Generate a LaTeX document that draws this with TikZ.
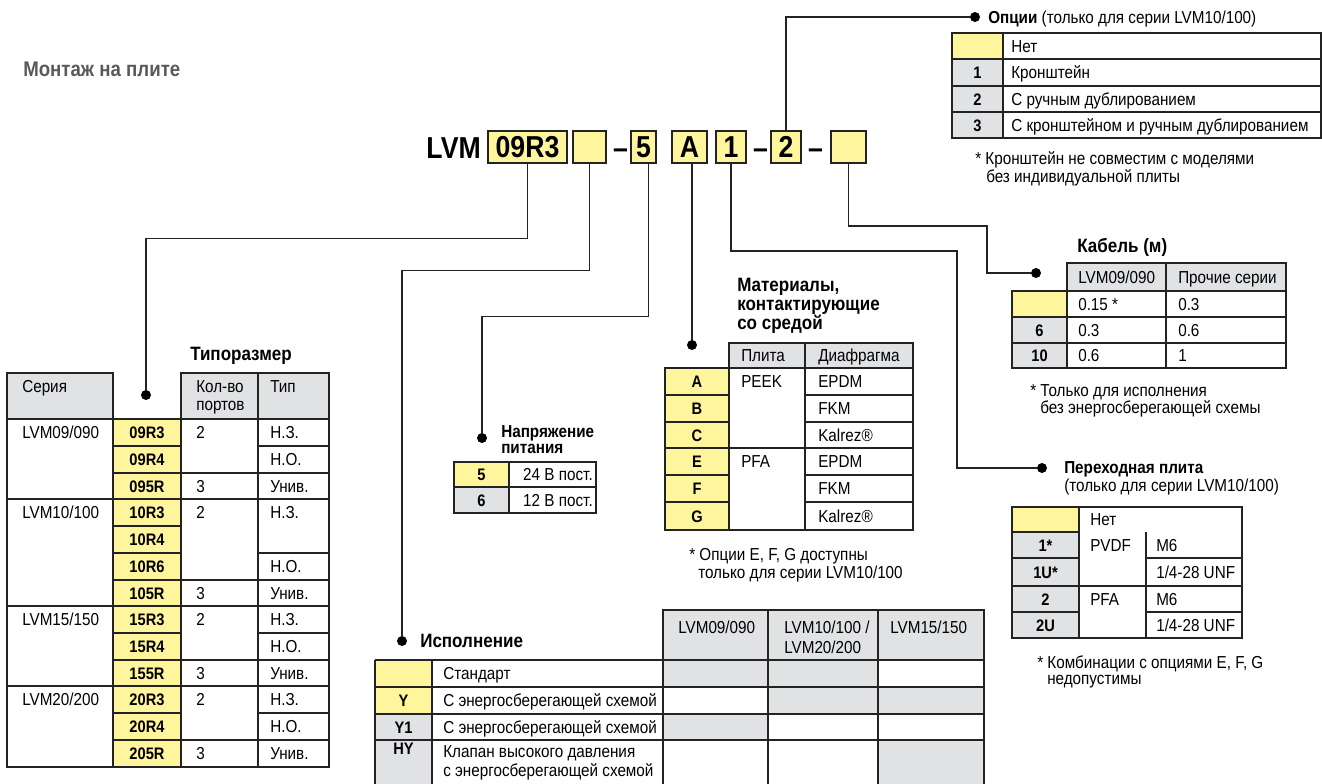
\documentclass[tikz,border=0pt]{standalone}
\usepackage{fontspec}
\setmainfont{Liberation Sans}[FakeStretch=0.88]
\usepackage{xcolor}
\usepackage{tikz}

\definecolor{cYel}{RGB}{255,245,157}
\definecolor{cGry}{RGB}{225,226,228}
\definecolor{cLine}{RGB}{35,35,35}
\definecolor{cHead}{RGB}{88,89,91}

\begin{document}
\begin{tikzpicture}[x=0.75pt,y=0.75pt,yscale=-1,xscale=1,
  tbl/.style={draw=cLine,line width=1.1pt},
  wire/.style={draw=cLine,line width=0.8pt},
  dot/.style={circle,fill=black,inner sep=0pt,minimum size=7.5pt},
  txt/.style={anchor=base west,inner sep=0pt,font=\fontsize{13}{14}\selectfont},
  cod/.style={anchor=base,inner sep=0pt,font=\bfseries\fontsize{12.5}{14}\selectfont},
  ttl/.style={anchor=base west,inner sep=0pt,font=\bfseries\fontsize{14.5}{18}\selectfont},
  sttl/.style={anchor=base west,inner sep=0pt,font=\bfseries\fontsize{13}{16}\selectfont},
  pbox/.style={draw=cLine,line width=1.1pt,fill=cYel,inner sep=0pt,minimum height=24pt,font=\bfseries\fontsize{22.7}{26}\selectfont},
  pdash/.style={anchor=base,inner sep=0pt,font=\bfseries\fontsize{22.7}{26}\selectfont}]
\useasboundingbox (0,0) rectangle (1322,783);

% Text Node
\node[anchor=base west,inner sep=0pt,text=cHead,font=\bfseries\fontsize{15.9}{18}\selectfont] (tMount) at (23,76) {Монтаж на плите};

%Part number
\node[anchor=base east,inner sep=0pt,font=\bfseries\fontsize{22.7}{26}\selectfont] (tLVM) at (481,158) {LVM};
\node[pbox,minimum width=59.25pt] (kSize) at (527.5,147) {09R3};
\node[pbox,minimum width=24.75pt] (kExec) at (589.5,147) {};
\node[pdash] (m1) at (620.5,158) {–};
\node[pbox,minimum width=18.75pt] (kVolt) at (643.5,147) {5};
\node[pbox,minimum width=26.25pt] (kMat) at (689.5,147) {A};
\node[pbox,minimum width=22.5pt] (kBase) at (731,147) {1};
\node[pdash] (m2) at (760.5,158) {–};
\node[pbox,minimum width=22.5pt] (kOpt) at (786,147) {2};
\node[pdash] (m3) at (815.5,158) {–};
\node[pbox,minimum width=26.25pt] (kCable) at (848.5,147) {};

%Dots
\node[dot] (dOpt) at (975,17) {};
\node[dot] (dCable) at (1036,273) {};
\node[dot] (dSize) at (146,395) {};
\node[dot] (dVolt) at (482,438) {};
\node[dot] (dMat) at (692,345) {};
\node[dot] (dBase) at (1042,468) {};
\node[dot] (dExec) at (402,641) {};
\coordinate (jBase) at (957,251);
\coordinate (jCable) at (987,226);

%Straight Lines
\draw[wire] (kSize.south) -- ++(0,75) -| (dSize);
\draw[wire] (kExec.south) -- ++(0,107) -| (dExec);
\draw[wire] ([xshift=4pt]kVolt.south) -- ++(0,153) -| (dVolt);
\draw[wire] (dMat |- kMat.south) -- (dMat);
\draw[wire] (kBase.south) |- (jBase) |- (dBase);
\draw[wire] (kOpt.north) |- (dOpt);
\draw[wire] (kCable.south) |- (jCable) |- (dCable);

%Options
\node[txt] (tOpt) at (988,23) {\textbf{Опции} (только для серии LVM10/100)};
\fill[cYel] (952,33) rectangle (1003,59);
\fill[cGry] (952,59) rectangle (1003,138);
\draw[tbl] (952,33) rectangle (1321,138);
\draw[tbl] (1003,33) -- (1003,138) (952,59) -- (1321,59) (952,86) -- (1321,86) (952,112) -- (1321,112);
\node[txt] (o0) at (1011,52) {Нет};
\node[cod] (oc1) at (977.5,78.5) {1};
\node[txt] (o1) at (1011,78.5) {Кронштейн};
\node[cod] (oc2) at (977.5,105) {2};
\node[txt] (o2) at (1011,105) {С ручным дублированием};
\node[cod] (oc3) at (977.5,131) {3};
\node[txt] (o3) at (1011,131) {С кронштейном и ручным дублированием};
\node[txt] (oN1) at (975,164) {* Кронштейн не совместим с моделями};
\node[txt] (oN2) at (986,182) {без индивидуальной плиты};

%Cable
\node[ttl] (tCable) at (1077,252) {Кабель (м)};
\fill[cGry] (1067,263) rectangle (1286,291);
\fill[cYel] (1012,291) rectangle (1067,317);
\fill[cGry] (1012,317) rectangle (1067,368);
\draw[tbl] (1067,263) rectangle (1286,368) (1012,291) rectangle (1067,368);
\draw[tbl] (1166,263) -- (1166,368) (1067,291) -- (1286,291) (1012,317) -- (1286,317) (1012,343) -- (1286,343);
\node[txt] (cH1) at (1078,283) {LVM09/090};
\node[txt] (cH2) at (1178,283) {Прочие серии};
\node[txt] (c01) at (1078,310) {0.15 *};
\node[txt] (c02) at (1178,310) {0.3};
\node[cod] (cc1) at (1039.5,336) {6};
\node[txt] (c11) at (1078,336) {0.3};
\node[txt] (c12) at (1178,336) {0.6};
\node[cod] (cc2) at (1039.5,361.5) {10};
\node[txt] (c21) at (1078,361.5) {0.6};
\node[txt] (c22) at (1178,361.5) {1};
\node[txt] (cN1) at (1030,396) {* Только для исполнения};
\node[txt] (cN2) at (1040,413) {без энергосберегающей схемы};

%Size table
\node[ttl] (tSize) at (190,360) {Типоразмер};
\draw[tbl,fill=cGry] (7,373) rectangle (113,419);
\draw[tbl,fill=cGry] (181,373) rectangle (329,419);
\draw[tbl] (258,373) -- (258,419);
\node[txt] (sH1) at (22,392) {Серия};
\node[txt] (sH2) at (196,392) {Кол-во};
\node[txt] (sH3) at (196,410) {портов};
\node[txt] (sH4) at (270,392) {Тип};
\fill[cYel] (113,419) rectangle (181,767);
\draw[tbl] (7,419) rectangle (329,767);
\draw[tbl] (113,419) -- (113,767) (181,419) -- (181,767) (258,419) -- (258,767);
\draw[tbl] (7,499) -- (329,499) (7,606) -- (329,606) (7,686) -- (329,686);
\draw[tbl] (113,473) -- (329,473) (113,580) -- (329,580) (113,660) -- (329,660) (113,740) -- (329,740);
\draw[tbl] (113,446) -- (181,446) (258,446) -- (329,446) (113,553) -- (181,553) (258,553) -- (329,553);
\draw[tbl] (113,633) -- (181,633) (258,633) -- (329,633) (113,713) -- (181,713) (258,713) -- (329,713);
\draw[tbl] (113,526) -- (181,526);
\node[txt] (s1) at (22,438.5) {LVM09/090};
\node[txt] (s2) at (22,518.5) {LVM10/100};
\node[txt] (s3) at (22,625.5) {LVM15/150};
\node[txt] (s4) at (22,705.5) {LVM20/200};
\node[cod] (sc1) at (147,438.5) {09R3};
\node[cod] (sc2) at (147,465.5) {09R4};
\node[cod] (sc3) at (147,492) {095R};
\node[cod] (sc4) at (147,518.5) {10R3};
\node[cod] (sc5) at (147,545.5) {10R4};
\node[cod] (sc6) at (147,572.5) {10R6};
\node[cod] (sc7) at (147,599) {105R};
\node[cod] (sc8) at (147,625.5) {15R3};
\node[cod] (sc9) at (147,652.5) {15R4};
\node[cod] (sc10) at (147,679) {155R};
\node[cod] (sc11) at (147,705.5) {20R3};
\node[cod] (sc12) at (147,732.5) {20R4};
\node[cod] (sc13) at (147,759.5) {205R};
\node[txt] (sp1) at (196,438.5) {2};
\node[txt] (sp2) at (196,492) {3};
\node[txt] (sp3) at (196,518.5) {2};
\node[txt] (sp4) at (196,599) {3};
\node[txt] (sp5) at (196,625.5) {2};
\node[txt] (sp6) at (196,679) {3};
\node[txt] (sp7) at (196,705.5) {2};
\node[txt] (sp8) at (196,759.5) {3};
\node[txt] (st1) at (270,438.5) {Н.З.};
\node[txt] (st2) at (270,465.5) {Н.О.};
\node[txt] (st3) at (270,492) {Унив.};
\node[txt] (st4) at (270,518.5) {Н.З.};
\node[txt] (st5) at (270,572.5) {Н.О.};
\node[txt] (st6) at (270,599) {Унив.};
\node[txt] (st7) at (270,625.5) {Н.З.};
\node[txt] (st8) at (270,652.5) {Н.О.};
\node[txt] (st9) at (270,679) {Унив.};
\node[txt] (st10) at (270,705.5) {Н.З.};
\node[txt] (st11) at (270,732.5) {Н.О.};
\node[txt] (st12) at (270,759.5) {Унив.};

%Voltage
\node[sttl] (tVolt1) at (501,437) {Напряжение};
\node[sttl] (tVolt2) at (501,453) {питания};
\draw[tbl,fill=cYel] (454,462) rectangle (509,487);
\draw[tbl,fill=cGry] (454,487) rectangle (509,513);
\draw[tbl] (509,462) rectangle (596,513) (509,487) -- (596,487);
\node[cod] (vc1) at (481.5,480.5) {5};
\node[txt,anchor=base east] (v1) at (593,480.5) {24 В пост.};
\node[cod] (vc2) at (481.5,506) {6};
\node[txt,anchor=base east] (v2) at (593,506) {12 В пост.};

%Materials
\node[ttl] (tMat1) at (737,291) {Материалы,};
\node[ttl] (tMat2) at (737,310) {контактирующие};
\node[ttl] (tMat3) at (737,329) {со средой};
\draw[tbl,fill=cGry] (729,343) rectangle (913,368);
\draw[tbl] (805,343) -- (805,368);
\node[txt] (mH1) at (741,361.5) {Плита};
\node[txt] (mH2) at (818,361.5) {Диафрагма};
\draw[tbl,fill=cYel] (665,368) rectangle (729,530);
\draw[tbl] (729,368) rectangle (913,530) (805,368) -- (805,530) (665,448) -- (913,448);
\draw[tbl] (665,395) -- (729,395) (805,395) -- (913,395) (665,422) -- (729,422) (805,422) -- (913,422);
\draw[tbl] (665,475) -- (729,475) (805,475) -- (913,475) (665,502) -- (729,502) (805,502) -- (913,502);
\node[cod] (mc1) at (697,387.5) {A};
\node[cod] (mc2) at (697,414.5) {B};
\node[cod] (mc3) at (697,441) {C};
\node[cod] (mc4) at (697,467.5) {E};
\node[cod] (mc5) at (697,494.5) {F};
\node[cod] (mc6) at (697,522) {G};
\node[txt] (mp1) at (741,387.5) {PEEK};
\node[txt] (mp2) at (741,467.5) {PFA};
\node[txt] (md1) at (818,387.5) {EPDM};
\node[txt] (md2) at (818,414.5) {FKM};
\node[txt] (md3) at (818,441) {Kalrez®};
\node[txt] (md4) at (818,467.5) {EPDM};
\node[txt] (md5) at (818,494.5) {FKM};
\node[txt] (md6) at (818,522) {Kalrez®};
\node[txt] (mN1) at (689,560) {* Опции E, F, G доступны};
\node[txt] (mN2) at (698,578) {только для серии LVM10/100};

%Adapter plate
\node[sttl] (tBase1) at (1064,473) {Переходная плита};
\node[txt] (tBase2) at (1064,491) {(только для серии LVM10/100)};
\draw[tbl,fill=cYel] (1012,507) rectangle (1079,532);
\draw[tbl,fill=cGry] (1012,532) rectangle (1079,638);
\draw[tbl] (1079,507) rectangle (1242,638) (1146,532) -- (1146,638);
\draw[tbl] (1012,586) -- (1242,586) (1012,558) -- (1079,558) (1146,558) -- (1242,558) (1012,612) -- (1079,612) (1146,612) -- (1242,612);
\node[txt] (b0) at (1090,525.5) {Нет};
\node[cod] (bc1) at (1045.5,551) {1*};
\node[cod] (bc2) at (1045.5,578) {1U*};
\node[cod] (bc3) at (1045.5,605) {2};
\node[cod] (bc4) at (1045.5,631) {2U};
\node[txt] (bp1) at (1090,551) {PVDF};
\node[txt] (bp2) at (1090,605) {PFA};
\node[txt] (bt1) at (1156,551) {M6};
\node[txt] (bt2) at (1156,578) {1/4-28 UNF};
\node[txt] (bt3) at (1156,605) {M6};
\node[txt] (bt4) at (1156,631) {1/4-28 UNF};
\node[txt] (bN1) at (1037,668) {* Комбинации с опциями E, F, G};
\node[txt] (bN2) at (1047,684) {недопустимы};

%Execution
\node[ttl] (tExec) at (420,647) {Исполнение};
\draw[tbl,fill=cGry] (663,610) rectangle (984,660);
\draw[tbl] (768,610) -- (768,660) (878,610) -- (878,660);
\node[txt] (eH1) at (678,633) {LVM09/090};
\node[txt] (eH2) at (784,633) {LVM10/100 /};
\node[txt] (eH3) at (784,653) {LVM20/200};
\node[txt] (eH4) at (890,633) {LVM15/150};
\fill[cYel] (375,660) rectangle (432,714);
\fill[cGry] (375,714) rectangle (432,795);
\fill[cGry] (663,660) rectangle (878,687);
\fill[cGry] (768,687) rectangle (984,714);
\fill[cGry] (663,714) rectangle (768,740);
\fill[cGry] (878,740) rectangle (984,795);
\draw[tbl] (375,660) -- (984,660) (375,687) -- (984,687) (375,714) -- (984,714) (375,740) -- (984,740);
\draw[tbl] (375,660) -- (375,795) (432,660) -- (432,795) (663,660) -- (663,795) (768,660) -- (768,795) (878,660) -- (878,795) (984,660) -- (984,795);
\node[txt] (e0) at (443,679.5) {Стандарт};
\node[cod] (ec1) at (403.5,706.5) {Y};
\node[txt] (e1) at (443,706.5) {С энергосберегающей схемой};
\node[cod] (ec2) at (403.5,733) {Y1};
\node[txt] (e2) at (443,733) {С энергосберегающей схемой};
\node[cod] (ec3) at (403.5,754) {HY};
\node[txt] (e3) at (443,757) {Клапан высокого давления};
\node[txt] (e4) at (443,776) {с энергосберегающей схемой};

\end{tikzpicture}
\end{document}
